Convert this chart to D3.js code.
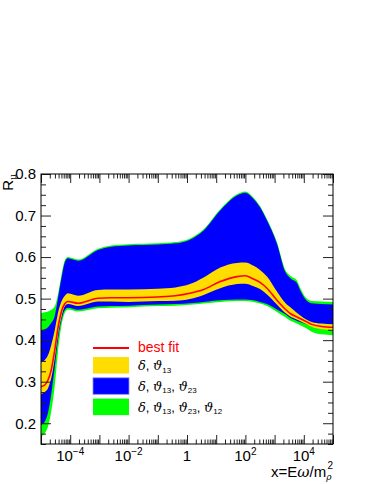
<!DOCTYPE html>
<html>
<head>
<meta charset="utf-8">
<script src="https://cdn.jsdelivr.net/npm/d3@7"></script>
<style>
  body { margin: 0; background: #fff; }
  svg { display: block; }
  text { font-family: "Liberation Sans", Arial, sans-serif; }
</style>
</head>
<body>
<svg id="svg" width="374" height="484"></svg>
<script>
// log10(x) sampling points
const logX = [-5.0, -4.87, -4.76, -4.65, -4.53, -4.42, -4.30, -4.19, -4.08, -3.73, -3.05, -2.6, -2.0, -1.0, -0.4, 0.1, 0.57, 1.14, 1.71, 1.99, 2.28, 2.5, 2.74, 3.08, 3.36, 3.56, 3.76, 3.87, 4.1, 4.27, 4.6, 5.0];

const greenUp = [0.465, 0.467, 0.469, 0.473, 0.481, 0.510, 0.557, 0.591, 0.600, 0.594, 0.620, 0.628, 0.631, 0.633, 0.636, 0.645, 0.667, 0.715, 0.751, 0.758, 0.743, 0.723, 0.691, 0.636, 0.570, 0.554, 0.544, 0.527, 0.500, 0.494, 0.493, 0.492];
const greenLo = [0.168, 0.176, 0.192, 0.228, 0.290, 0.370, 0.435, 0.465, 0.474, 0.469, 0.477, 0.478, 0.479, 0.482, 0.483, 0.485, 0.488, 0.492, 0.494, 0.494, 0.492, 0.488, 0.482, 0.468, 0.456, 0.446, 0.440, 0.436, 0.428, 0.420, 0.414, 0.412];
const blueUp = [0.423, 0.426, 0.431, 0.441, 0.458, 0.500, 0.549, 0.586, 0.597, 0.591, 0.617, 0.625, 0.628, 0.630, 0.633, 0.642, 0.664, 0.712, 0.748, 0.755, 0.740, 0.720, 0.688, 0.632, 0.565, 0.548, 0.538, 0.521, 0.495, 0.489, 0.487, 0.486];
const blueLo = [0.196, 0.204, 0.225, 0.270, 0.335, 0.400, 0.448, 0.472, 0.478, 0.473, 0.481, 0.482, 0.483, 0.486, 0.487, 0.489, 0.492, 0.496, 0.498, 0.498, 0.496, 0.492, 0.487, 0.474, 0.463, 0.453, 0.447, 0.444, 0.438, 0.436, 0.436, 0.436];
const yellowUp = [0.346, 0.352, 0.364, 0.388, 0.424, 0.465, 0.493, 0.506, 0.513, 0.507, 0.521, 0.522, 0.522, 0.524, 0.527, 0.535, 0.551, 0.575, 0.586, 0.587, 0.579, 0.569, 0.553, 0.517, 0.490, 0.478, 0.466, 0.460, 0.449, 0.444, 0.440, 0.438];
const yellowLo = [0.270, 0.275, 0.284, 0.308, 0.356, 0.412, 0.456, 0.481, 0.487, 0.482, 0.493, 0.493, 0.492, 0.494, 0.495, 0.499, 0.509, 0.525, 0.535, 0.536, 0.530, 0.523, 0.510, 0.486, 0.466, 0.456, 0.450, 0.446, 0.438, 0.432, 0.426, 0.424];
const bestFit = [0.288, 0.292, 0.304, 0.328, 0.376, 0.429, 0.469, 0.487, 0.493, 0.489, 0.501, 0.502, 0.502, 0.504, 0.507, 0.513, 0.522, 0.541, 0.553, 0.555, 0.547, 0.539, 0.525, 0.496, 0.475, 0.463, 0.456, 0.452, 0.444, 0.438, 0.433, 0.431];

const xDomain = [1e-5, 1e5];
const yDomain = [0.15, 0.8];
const yLabels = [0.2, 0.3, 0.4, 0.5, 0.6, 0.7, 0.8];
const xLabelExp = [-4, -2, 0, 2, 4];

// legend: first entry is the line, the rest are bands (greek + subscripts)
const legendBest = 'best fit';
const legendBands = [
  [['δ', ''], ['ϑ', '13']],
  [['δ', ''], ['ϑ', '13'], ['ϑ', '23']],
  [['δ', ''], ['ϑ', '13'], ['ϑ', '23'], ['ϑ', '12']]
];
const bandColors = ['#ffdd00', '#0000ff', '#00ff00'];

const frame = { left: 41, right: 333, top: 174, bottom: 444 };

let svg = d3.select('#svg');

let xScale = d3.scaleLog().domain(xDomain).range([frame.left, frame.right]);
let yScale = d3.scaleLinear().domain(yDomain).range([frame.bottom, frame.top]);

let rows = logX.map((lx, i) => ({
  x: Math.pow(10, lx),
  gU: greenUp[i], gL: greenLo[i],
  bU: blueUp[i], bL: blueLo[i],
  yU: yellowUp[i], yL: yellowLo[i],
  best: bestFit[i]
}));

svg.append('clipPath').attr('id', 'clip')
  .append('rect')
  .attr('x', frame.left).attr('y', frame.top)
  .attr('width', frame.right - frame.left)
  .attr('height', frame.bottom - frame.top);

let plot = svg.append('g').attr('clip-path', 'url(#clip)');

function band(lo, hi) {
  return d3.area()
    .x(d => xScale(d.x))
    .y0(d => yScale(d[lo]))
    .y1(d => yScale(d[hi]))
    .curve(d3.curveMonotoneX);
}

plot.append('path').attr('d', band('gL', 'gU')(rows)).attr('fill', bandColors[2]);
plot.append('path').attr('d', band('bL', 'bU')(rows)).attr('fill', bandColors[1]);
plot.append('path').attr('d', band('yL', 'yU')(rows)).attr('fill', bandColors[0]);

let line = d3.line()
  .x(d => xScale(d.x))
  .y(d => yScale(d.best))
  .curve(d3.curveMonotoneX);

plot.append('path')
  .attr('d', line(rows))
  .attr('fill', 'none')
  .attr('stroke', '#ff0000')
  .attr('stroke-width', 1.6);

// ticks (ROOT style, inward on all sides)
let decades = d3.range(-5, 6).map(e => Math.pow(10, e));
let minors = [];
for (let e = -5; e < 5; e++) {
  for (let m = 2; m <= 9; m++) minors.push(m * Math.pow(10, e));
}
let yMinor = d3.range(0.15, 0.8001, 0.025).filter(v => Math.abs(Math.round(v * 10) - v * 10) > 0.01);

function tickGroup(axis, tx, ty) {
  let g = svg.append('g')
    .attr('transform', `translate(${tx},${ty})`)
    .call(axis);
  g.select('.domain').remove();
  g.selectAll('line').attr('stroke', '#222');
  return g;
}

tickGroup(d3.axisBottom(xScale).tickValues(decades).tickSize(-9).tickFormat(''), 0, frame.bottom);
tickGroup(d3.axisBottom(xScale).tickValues(minors).tickSize(-4.5).tickFormat(''), 0, frame.bottom);
tickGroup(d3.axisTop(xScale).tickValues(decades).tickSize(-9).tickFormat(''), 0, frame.top);
tickGroup(d3.axisTop(xScale).tickValues(minors).tickSize(-4.5).tickFormat(''), 0, frame.top);

let yAxisG = tickGroup(d3.axisLeft(yScale).tickValues(yLabels).tickSize(-10).tickPadding(5).tickFormat(d3.format('.1f')), frame.left, 0);
yAxisG.selectAll('text').attr('font-size', '15px').attr('fill', '#000')
  .style('font-family', '"Liberation Sans", Arial, sans-serif');
tickGroup(d3.axisLeft(yScale).tickValues(yMinor).tickSize(-5).tickFormat(''), frame.left, 0);
tickGroup(d3.axisRight(yScale).tickValues(yLabels).tickSize(-10).tickFormat(''), frame.right, 0);
tickGroup(d3.axisRight(yScale).tickValues(yMinor).tickSize(-5).tickFormat(''), frame.right, 0);

svg.append('rect')
  .attr('x', frame.left).attr('y', frame.top)
  .attr('width', frame.right - frame.left)
  .attr('height', frame.bottom - frame.top)
  .attr('fill', 'none')
  .attr('stroke', '#000')
  .attr('stroke-width', 1);

// x tick labels 10^n
let xl = svg.append('g').selectAll('text')
  .data(xLabelExp)
  .enter()
  .append('text')
  .attr('x', d => xScale(Math.pow(10, d)))
  .attr('y', 461)
  .attr('text-anchor', 'middle')
  .attr('font-size', '15px');
xl.each(function (d) {
  let t = d3.select(this);
  if (d === 0) { t.text('1'); return; }
  t.append('tspan').text('10');
  t.append('tspan').attr('font-size', '10px').attr('dy', -6).text(d < 0 ? '\u2212' + (-d) : d);
});

// axis titles
let xt = svg.append('text')
  .attr('x', frame.right)
  .attr('y', 477)
  .attr('text-anchor', 'end')
  .attr('font-size', '15px');
xt.append('tspan').text('x=E');
xt.append('tspan').style('font-family', '"DejaVu Serif", serif').style('font-style', 'italic').text('ω');
xt.append('tspan').text('/m');
xt.append('tspan').attr('font-size', '9px').attr('dy', 3).style('font-family', '"DejaVu Serif", serif').style('font-style', 'italic').text('ρ');
xt.append('tspan').attr('font-size', '10px').attr('dy', -11).attr('dx', -4).text('2');

let yt = svg.append('text')
  .attr('transform', `translate(12.5,${frame.top}) rotate(-90)`)
  .attr('text-anchor', 'end')
  .attr('font-size', '15px');
yt.append('tspan').text('R');
yt.append('tspan').attr('font-size', '9px').attr('dy', 3).style('font-family', '"DejaVu Serif", serif').text('μ');

// legend
let lg = svg.append('g');
lg.append('line')
  .attr('x1', 93).attr('x2', 129)
  .attr('y1', 348).attr('y2', 348)
  .attr('stroke', '#ff0000')
  .attr('stroke-width', 2);
lg.append('text')
  .attr('x', 138).attr('y', 352)
  .attr('font-size', '14px')
  .attr('fill', '#ff0000')
  .text(legendBest);

legendBands.forEach((parts, i) => {
  let top = 357 + i * 20.8;
  lg.append('rect')
    .attr('x', 93).attr('y', top)
    .attr('width', 36).attr('height', 16.5)
    .attr('fill', bandColors[i])
    .attr('stroke', i === 1 ? '#8a8aff' : 'none')
    .attr('stroke-width', 0.8);
  let t = lg.append('text')
    .attr('x', 138).attr('y', top + 13)
    .attr('font-size', '13px');
  parts.forEach((p, j) => {
    if (j > 0) t.append('tspan').attr('dy', j > 1 ? -2.5 : 0).text(', ');
    t.append('tspan')
      .style('font-family', '"DejaVu Serif", serif')
      .style('font-style', 'italic')
      .text(p[0]);
    if (p[1]) {
      t.append('tspan').attr('font-size', '8px').attr('dy', 2.5).text(p[1]);
    }
  });
});
</script>
</body>
</html>
